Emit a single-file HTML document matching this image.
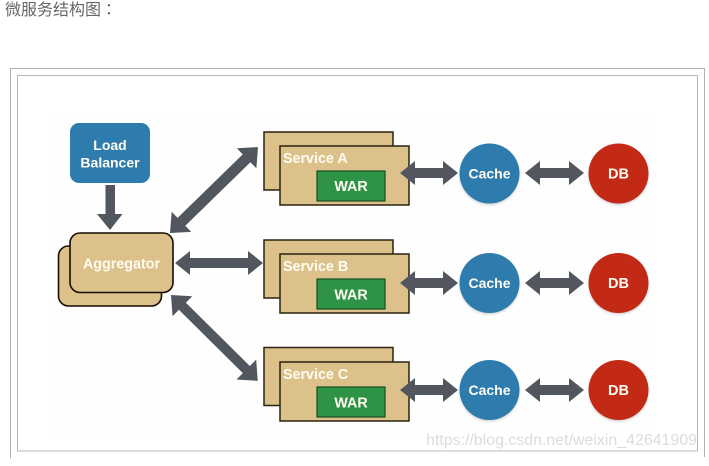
<!DOCTYPE html>
<html><head><meta charset="utf-8"><style>
html,body{margin:0;padding:0;background:#fff;width:709px;height:466px;overflow:hidden}
svg{display:block;position:absolute;left:0;top:0}
text{font-family:"Liberation Sans",sans-serif;font-weight:bold;fill:#fffcf2;text-anchor:middle}
</style></head><body>
<svg width="709" height="466" viewBox="0 0 709 466" xmlns="http://www.w3.org/2000/svg">
<defs>
<filter id="b" x="-5%" y="-5%" width="110%" height="110%"><feGaussianBlur stdDeviation="0.35"/></filter>
<filter id="s" x="-20%" y="-20%" width="140%" height="140%"><feGaussianBlur stdDeviation="1"/></filter>
</defs>
<rect x="17.5" y="75.5" width="680" height="375.5" fill="#fff" stroke="#b8b8b8"/>
<path d="M10.5 458V68.5H704.5V457" fill="none" stroke="#b0b0b0"/>
<rect x="55" y="118" width="600" height="315" fill="#fefefe"/>
<text x="5" y="15" style="font-family:'Liberation Sans','Noto Sans CJK TC',sans-serif;font-weight:normal;font-size:16px;fill:#666;text-anchor:start">微服务结构图：</text>
<g filter="url(#b)">
<rect x="70" y="123" width="80" height="60" rx="9" fill="#2f7cae"/>
<text x="110" y="150" font-size="14">Load</text>
<text x="110" y="167.5" font-size="14">Balancer</text>
<polygon points="105.500,185 115,185 115,214 122.500,214 110,230 97,214 105.500,214" fill="#51565f"/>
<rect x="58.5" y="246" width="103" height="60" rx="10" fill="#dcc28a" stroke="#120d02" stroke-width="1.600"/>
<rect x="70" y="233" width="103" height="59.500" rx="10" fill="#dcc28a" stroke="#120d02" stroke-width="1.600"/>
<text x="121.500" y="268.500" font-size="14.300">Aggregator</text>

<g fill="#51565f">
<polygon transform="translate(170,233) rotate(-44.300)" points="0,0 16,-14 16,-5.500 107,-5.500 107,-14 123,0 107,14 107,5.500 16,5.500 16,14"/>
<polygon transform="translate(171,295) rotate(44.700)" points="0,0 16,-14 16,-5 106,-5 106,-14 122,0 106,14 106,5 16,5 16,14"/>
<polygon transform="translate(175,263)" points="0,0 15,-12 15,-5 73,-5 73,-12 88,0 73,12 73,5 15,5 15,12"/>
</g>

<g>
<rect x="264" y="132" width="129" height="58" fill="#dcc28a" stroke="#2a2110" stroke-width="1.500"/>
<rect x="280" y="146" width="129" height="59" fill="#dcc28a" stroke="#2a2110" stroke-width="1.500"/>
<text x="283" y="163" font-size="14.300" style="text-anchor:start">Service A</text>
<rect x="317" y="171" width="68" height="30" fill="#2f9347" stroke="#174d25" stroke-width="1.200"/>
<text x="351" y="191" font-size="14.300">WAR</text>
<polygon points="400,173 415,161 415,168 443,168 443,161 458,173 443,185 443,178 415,178 415,185" fill="#51565f"/>
<circle cx="489.500" cy="175" r="30" fill="#888" opacity=".35" filter="url(#s)"/>
<circle cx="489.500" cy="173.500" r="30" fill="#2f7cae"/>
<text x="489.500" y="178.500" font-size="14">Cache</text>
<polygon points="525,173 540,161 540,168 569,168 569,161 584,173 569,185 569,178 540,178 540,185" fill="#51565f"/>
<circle cx="618.500" cy="175" r="30" fill="#888" opacity=".35" filter="url(#s)"/>
<circle cx="618.500" cy="173.500" r="30" fill="#c32914"/>
<text x="618.500" y="178.500" font-size="14.500">DB</text>
</g>

<g>
<rect x="264" y="240" width="129" height="58" fill="#dcc28a" stroke="#2a2110" stroke-width="1.500"/>
<rect x="280" y="254" width="129" height="59" fill="#dcc28a" stroke="#2a2110" stroke-width="1.500"/>
<text x="283" y="271" font-size="14.300" style="text-anchor:start">Service B</text>
<rect x="317" y="279" width="68" height="30" fill="#2f9347" stroke="#174d25" stroke-width="1.200"/>
<text x="351" y="299.500" font-size="14.300">WAR</text>
<polygon points="400,283 415,271 415,278 443,278 443,271 458,283 443,295 443,288 415,288 415,295" fill="#51565f"/>
<circle cx="489.500" cy="284.500" r="30" fill="#888" opacity=".35" filter="url(#s)"/>
<circle cx="489.500" cy="283" r="30" fill="#2f7cae"/>
<text x="489.500" y="288" font-size="14">Cache</text>
<polygon points="525,283 540,271 540,278 569,278 569,271 584,283 569,295 569,288 540,288 540,295" fill="#51565f"/>
<circle cx="618.500" cy="284.500" r="30" fill="#888" opacity=".35" filter="url(#s)"/>
<circle cx="618.500" cy="283" r="30" fill="#c32914"/>
<text x="618.500" y="288" font-size="14.500">DB</text>
</g>

<g>
<rect x="264" y="347.500" width="129" height="58" fill="#dcc28a" stroke="#2a2110" stroke-width="1.500"/>
<rect x="280" y="362" width="129" height="59" fill="#dcc28a" stroke="#2a2110" stroke-width="1.500"/>
<text x="283" y="379" font-size="14.300" style="text-anchor:start">Service C</text>
<rect x="317" y="387" width="68" height="30" fill="#2f9347" stroke="#174d25" stroke-width="1.200"/>
<text x="351" y="407.500" font-size="14.300">WAR</text>
<polygon points="400,390 415,378 415,385 443,385 443,378 458,390 443,402 443,395 415,395 415,402" fill="#51565f"/>
<circle cx="489.500" cy="391.500" r="30" fill="#888" opacity=".35" filter="url(#s)"/>
<circle cx="489.500" cy="390" r="30" fill="#2f7cae"/>
<text x="489.500" y="395" font-size="14">Cache</text>
<polygon points="525,390 540,378 540,385 569,385 569,378 584,390 569,402 569,395 540,395 540,402" fill="#51565f"/>
<circle cx="618.500" cy="391.500" r="30" fill="#888" opacity=".35" filter="url(#s)"/>
<circle cx="618.500" cy="390" r="30" fill="#c32914"/>
<text x="618.500" y="395" font-size="14.500">DB</text>
</g>
</g>
<text x="426" y="445" textLength="271" lengthAdjust="spacingAndGlyphs" style="font-weight:normal;font-size:16px;fill:#dcdcdc;text-anchor:start">https://blog.csdn.net/weixin_42641909</text>
</svg>
</body></html>
